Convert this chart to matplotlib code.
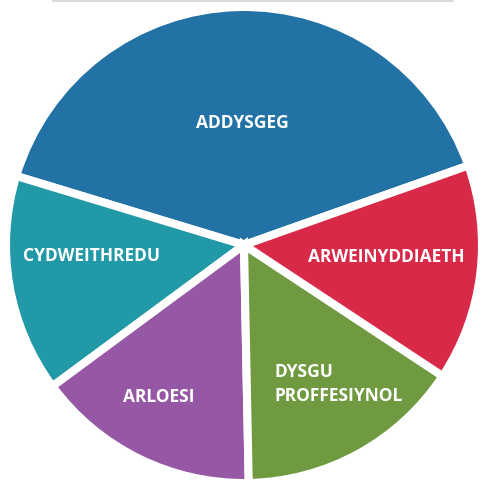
import matplotlib
matplotlib.use('Agg')
import matplotlib.pyplot as plt

labels = ['ADDYSGEG', 'CYDWEITHREDU', 'ARLOESI', 'DYSGU\nPROFFESIYNOL', 'ARWEINYDDIAETH']
shares = [39.9, 14.8, 15.2, 15.4, 14.7]
colors = ['#2272a6', '#2299a6', '#9657a5', '#709a40', '#d82a48']

W, H = 482, 487
fig = plt.figure(figsize=(W / 100, H / 100), dpi=100)
ax = fig.add_axes([0, 0, 1, 1])

ax.pie(shares, colors=colors, startangle=19.5, center=(244, 242), radius=238,
       wedgeprops=dict(edgecolor='white', linewidth=5.8), frame=True)

ax.set_xlim(0, W)
ax.set_ylim(0, H)
ax.set_aspect('equal')
ax.axis('off')

# faint line along the top edge
ax.plot([53, 453], [486.5, 486.5], color='#d4d4d4', linewidth=1.2)

# label positions in pixel coordinates (x, y from top)
label_pos = [(242, 123, 'center'), (92, 256, 'center'), (159, 397, 'center'),
             (274, 384, 'left'), (386, 257, 'center')]
for text, (px, py, ha) in zip(labels, label_pos):
    ax.text(px, H - py, text, ha=ha, va='center', color='white',
            fontsize=12.5, fontweight='bold', family='Open Sans',
            linespacing=1.4)

fig.savefig('out.png', dpi=100)
